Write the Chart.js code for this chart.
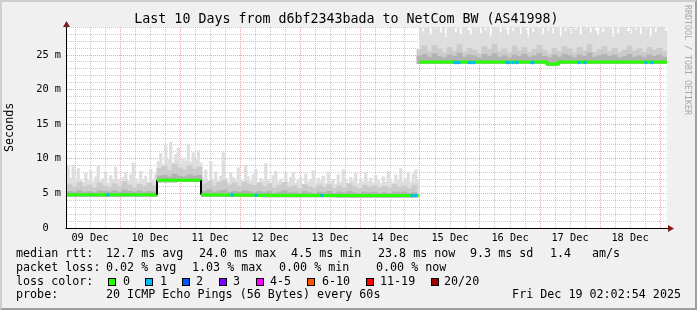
<!DOCTYPE html>
<html><head><meta charset="utf-8">
<script src="https://cdn.jsdelivr.net/npm/chart.js@4"></script>
<style>
html,body{margin:0;padding:0;}
body{width:697px;height:310px;overflow:hidden;position:relative;background:#f0f0f0;font-family:"DejaVu Sans Mono",monospace;color:#000;}
#frame{position:absolute;left:0;top:0;width:697px;height:310px;box-sizing:border-box;border-top:2px solid #cfcfcf;border-left:2px solid #cfcfcf;border-right:2px solid #9e9e9e;border-bottom:2px solid #9e9e9e;pointer-events:none;}
canvas{position:absolute;left:0;top:0;}
.t{position:absolute;white-space:pre;line-height:1;}
.title{font-size:13.3px;left:0;width:693px;text-align:center;top:12px;}
.lg{font-size:11.7px;}
.box{position:absolute;width:8px;height:8px;box-sizing:border-box;border:1px solid #000;}
.wm{position:absolute;font-size:8.3px;color:#a8a8a8;left:692px;top:5px;transform-origin:0 0;transform:rotate(90deg);white-space:pre;line-height:1;}
.ytitle{position:absolute;font-size:11.7px;left:4px;top:152px;transform-origin:0 0;transform:rotate(-90deg);white-space:pre;line-height:1;}
</style>
</head><body>
<canvas id="c" width="697" height="310"></canvas>
<div id="frame"></div>
<div class="t title">Last 10 Days from d6bf2343bada to NetCom BW (AS41998)</div>
<div class="ytitle">Seconds</div>
<div class="wm">RRDTOOL / TOBI OETIKER</div>

<div class="t lg" style="left:16px;top:248px">median rtt:</div>
<div class="t lg" style="left:106px;top:248px">12.7 ms avg</div>
<div class="t lg" style="left:199px;top:248px">24.0 ms max</div>
<div class="t lg" style="left:291px;top:248px">4.5 ms min</div>
<div class="t lg" style="left:378px;top:248px">23.8 ms now</div>
<div class="t lg" style="left:470px;top:248px">9.3 ms sd</div>
<div class="t lg" style="left:550px;top:248px">1.4</div>
<div class="t lg" style="left:592px;top:248px">am/s</div>

<div class="t lg" style="left:16px;top:262px">packet loss:</div>
<div class="t lg" style="left:106px;top:262px">0.02 % avg</div>
<div class="t lg" style="left:192px;top:262px">1.03 % max</div>
<div class="t lg" style="left:279px;top:262px">0.00 % min</div>
<div class="t lg" style="left:376px;top:262px">0.00 % now</div>

<div class="t lg" style="left:16px;top:276px">loss color:</div>
<div class="box" style="left:108px;top:278px;background:#26ff00"></div><div class="t lg" style="left:123px;top:276px">0</div>
<div class="box" style="left:145px;top:278px;background:#00b8ff"></div><div class="t lg" style="left:160px;top:276px">1</div>
<div class="box" style="left:182px;top:278px;background:#0059ff"></div><div class="t lg" style="left:196px;top:276px">2</div>
<div class="box" style="left:219px;top:278px;background:#7e00ff"></div><div class="t lg" style="left:233px;top:276px">3</div>
<div class="box" style="left:256px;top:278px;background:#ff00ff"></div><div class="t lg" style="left:270px;top:276px">4-5</div>
<div class="box" style="left:307px;top:278px;background:#ff5500"></div><div class="t lg" style="left:322px;top:276px">6-10</div>
<div class="box" style="left:366px;top:278px;background:#ff0000"></div><div class="t lg" style="left:380px;top:276px">11-19</div>
<div class="box" style="left:431px;top:278px;background:#a10000"></div><div class="t lg" style="left:444px;top:276px">20/20</div>

<div class="t lg" style="left:16px;top:289px">probe:</div>
<div class="t lg" style="left:106px;top:289px">20 ICMP Echo Pings (56 Bytes) every 60s</div>
<div class="t lg" style="right:16px;top:289px">Fri Dec 19 02:02:54 2025</div>

<script>
// ---- data (hours since 09 Dec 00:00) ----
const startHour = 2.8;
const endHour = 242.8;
const dayLabels = ['09 Dec','10 Dec','11 Dec','12 Dec','13 Dec','14 Dec','15 Dec','16 Dec','17 Dec','18 Dec'];
const yTickLabels = ['0  ','5 m','10 m','15 m','20 m','25 m'];

// median rtt (ms), piecewise
const medianHours = [2.8, 20, 38.8, 38.8, 47, 56.4, 56.4, 80, 110, 143.5, 143.55, 143.6, 175, 194.7, 194.8, 199.3, 199.4, 242.8];
const medianRtt   = [4.8, 4.8, 4.8, 6.9, 6.95, 6.9, 4.8, 4.75, 4.7, 4.7, null, 24.0, 24.0, 24.0, 23.7, 23.7, 24.0, 24.0];

// hours with 1/20 packet loss and their median rtt
const lossHours = [19.2, 68.8, 78.4, 104.8, 140.8, 142.3, 158, 158.8, 159.6, 163.6, 164.4, 165.6, 178.8, 179.6, 181.2, 182.8, 188.8, 189.2, 207.6, 210, 234.4, 236.8];
const lossRtt   = [4.8, 4.8, 4.75, 4.7, 4.7, 4.7, 23.9, 23.9, 23.9, 23.9, 23.9, 23.9, 23.9, 23.9, 23.9, 23.9, 23.9, 23.9, 23.9, 23.9, 23.9, 23.9];

// hourly max ping (ms)
const smokeMax = [
 8.9, 7.2, 9.1, 6.8, 8.6, 7.0, 6.6, 7.9, 6.9, 8.3, 6.7, 7.4, 9.0, 6.8, 7.1, 8.1, 6.5, 7.6, 6.9, 8.8, 7.0, 6.6, 7.3, 8.0, 6.8, 7.7, 9.4, 7.1, 6.7, 8.2, 6.9, 7.5, 6.6, 8.5, 7.0, 7.8,
 9.6, 10.8, 9.2, 11.9, 9.9, 12.4, 9.4, 10.6, 11.5, 9.3, 10.1, 9.7, 12.0, 9.5, 10.9, 9.8, 11.2, 9.4,
 7.1, 8.4, 6.7, 9.6, 7.0, 8.1, 6.8, 7.5, 10.9, 7.2, 6.6, 8.0, 7.3, 6.9, 8.7, 7.0, 6.5, 9.0, 7.4, 6.8, 7.7, 8.5, 6.6, 7.2,
 6.8, 9.3, 7.0, 6.5, 7.6, 8.2, 6.7, 7.1, 6.4, 7.9, 6.6, 7.3, 8.0, 6.5, 6.9, 7.4, 6.3, 7.8, 6.7, 7.0, 8.3, 6.5, 7.2, 6.8,
 7.5, 6.4, 8.1, 6.7, 7.0, 6.3, 7.7, 6.6, 8.4, 6.9, 6.5, 7.3, 6.8, 7.9, 6.4, 7.1, 6.6, 8.0, 6.7, 7.2, 6.5, 7.6, 6.9, 6.4,
 7.4, 6.6, 8.2, 6.8, 6.5, 7.7, 6.9, 8.6, 6.7, 7.1, 8.1, 6.6, 7.8, 8.4, 7.0,
 29.6, 28.4, 30.2, 29.1, 27.9, 29.8, 28.7, 30.5, 28.2, 29.4,
 27.6, 29.9, 28.9, 30.1, 28.3, 29.2, 28.0, 29.7, 30.4, 28.6,
 27.8, 29.5, 28.8, 30.0, 28.1, 29.3, 28.5, 30.3, 27.7, 29.0,
 28.9, 29.6, 28.2, 30.1, 28.7, 27.9, 29.8, 28.4, 29.2, 30.6,
 28.0, 29.4, 28.6, 27.6, 29.9, 28.3, 30.2, 28.8, 29.1, 27.8,
 29.7, 28.5, 30.0, 28.1, 29.5, 28.9, 27.7, 30.3, 28.4, 29.3,
 28.0, 29.8, 28.6, 30.4, 27.9, 29.0, 28.7, 29.6, 28.2, 30.1,
 28.5, 27.8, 29.9, 28.3, 29.4, 30.5, 28.8, 27.6, 29.2, 28.1,
 30.0, 28.9, 29.7, 28.4, 27.9, 29.5, 28.6, 30.2, 28.0, 29.1,
 28.7, 29.8, 27.7, 30.3, 28.3, 29.4, 28.9, 29.0, 28.5
];

// 2-hourly upper edge of the dense smoke (ms)
const smokeMid = [
 6.3, 5.9, 6.6, 6.0, 6.2, 5.8, 6.5, 6.1, 5.9, 6.4, 6.0, 6.7, 6.2, 5.8, 6.3, 6.0, 6.5, 6.1,
 8.6, 8.9, 8.3, 9.2, 8.7, 8.4, 9.0, 8.5, 8.8,
 6.4, 6.8, 6.1, 6.6, 6.9, 6.2, 6.5, 6.0, 6.7, 6.3, 6.1, 6.5,
 6.0, 6.4, 5.8, 6.2, 6.6, 5.9, 6.1, 5.7, 6.3, 6.0, 5.8, 6.2,
 5.9, 6.3, 5.7, 6.1, 5.8, 6.4, 6.0, 5.7, 6.2, 5.9, 6.1, 5.8,
 6.0, 5.8, 6.3, 5.9, 6.1, 5.7, 6.2,
 25.8, 26.3, 25.5, 26.4, 25.9, 25.3, 26.1, 25.6, 26.5, 25.4,
 26.0, 25.7, 25.2, 26.2, 25.8, 26.6, 25.5, 25.9, 25.3, 26.3,
 25.6, 26.1, 25.4, 25.8, 26.4, 25.7, 25.2, 26.0, 25.5, 26.2,
 25.9, 25.3, 26.1, 25.6, 26.5, 25.4, 25.8, 26.2, 25.5, 26.0,
 25.3, 25.7, 26.3, 25.6, 25.9, 25.4, 26.1, 25.7, 26.0, 25.5
];

// 2-hourly upper edge of the darkest smoke near the median (ms)
const smokeCore = [
 5.3, 5.2, 5.4, 5.2, 5.3, 5.1, 5.4, 5.3, 5.2, 5.4, 5.2, 5.5, 5.3, 5.2, 5.4, 5.2, 5.3, 5.2,
 7.5, 7.6, 7.4, 7.8, 7.5, 7.4, 7.7, 7.5, 7.6,
 5.3, 5.5, 5.2, 5.4, 5.5, 5.2, 5.3, 5.2, 5.4, 5.3,
 5.1, 5.3, 5.1, 5.3, 5.0, 5.2, 5.4, 5.1, 5.2, 5.0,
 5.3, 5.1, 5.0, 5.2, 5.1, 5.3, 5.0, 5.2, 5.1, 5.3,
 5.1, 5.0, 5.2, 5.1, 5.2, 5.0, 5.1, 5.0, 5.2, 5.1,
 5.2, 5.0, 5.1,
 24.9, 25.1, 24.7, 25.2, 24.8, 24.6, 25.0, 24.8, 25.3, 24.7,
 25.0, 24.9, 24.6, 25.1, 24.8, 25.2, 24.7, 24.9, 24.6, 25.0,
 24.8, 25.1, 24.7, 24.9, 25.2, 24.8, 24.6, 25.0, 24.7, 25.1,
 24.9, 24.6, 25.0, 24.8, 25.3, 24.7, 24.9, 25.1, 24.8, 25.0,
 24.6, 24.8, 25.1, 24.7, 24.9, 24.7, 25.0, 24.8, 25.0, 24.7
];

// ---- helpers ----
function medianAt(h) {
  let v = medianRtt[0];
  for (let i = 0; i < medianHours.length; i++) {
    if (medianHours[i] <= h && medianRtt[i] !== null) v = medianRtt[i];
  }
  return v;
}
function bandData(values, binHours) {
  return values.map((v, i) => {
    const x = startHour + binHours * i + binHours / 2;
    return { x: x, y: [medianAt(x) - 0.25, v] };
  });
}

const GRID = 'rgba(143,143,143,0.46)';
const MGRID = 'rgba(222,80,80,0.5)';
const FONT = '"DejaVu Sans Mono", monospace';

const bgPlugin = {
  id: 'bg',
  beforeDraw(chart) {
    const a = chart.chartArea, c = chart.ctx;
    c.save(); c.fillStyle = '#ffffff';
    c.fillRect(a.left, a.top, a.right - a.left, a.bottom - a.top + 1);
    c.restore();
  }
};
const axesPlugin = {
  id: 'axes',
  afterDraw(chart) {
    const a = chart.chartArea, c = chart.ctx;
    const x0 = a.left - 0.5, y0 = a.bottom + 0.5;
    c.save();
    c.strokeStyle = '#000'; c.lineWidth = 1;
    c.beginPath();
    c.moveTo(x0, y0); c.lineTo(x0, a.top - 1);
    c.moveTo(x0 - 1, y0); c.lineTo(a.right + 2, y0);
    c.stroke();
    c.fillStyle = '#7f1f1f';
    c.beginPath();
    c.moveTo(x0, a.top - 6); c.lineTo(x0 - 3.5, a.top); c.lineTo(x0 + 3.5, a.top); c.closePath(); c.fill();
    c.beginPath();
    c.moveTo(a.right + 7, y0); c.lineTo(a.right + 1, y0 - 3.5); c.lineTo(a.right + 1, y0 + 3.5); c.closePath(); c.fill();
    c.restore();
  }
};

new Chart(document.getElementById('c'), {
  type: 'bar',
  data: {
    datasets: [
      { type: 'scatter', order: 0, data: lossHours.map((h, i) => ({ x: h, y: lossRtt[i] })),
        pointStyle: 'rect', pointRadius: 2.1, pointBackgroundColor: '#00b8ff', pointBorderWidth: 0, clip: 0 },
      { type: 'line', order: 1, data: medianHours.map((h, i) => ({ x: h, y: medianRtt[i] })),
        borderColor: '#26ff00', borderWidth: 3, pointRadius: 0, tension: 0, spanGaps: false, clip: 0,
        borderCapStyle: 'butt',
        segment: {
          borderColor: ctx => Math.abs(ctx.p1.parsed.y - ctx.p0.parsed.y) > 1 ? '#000000' : undefined,
          borderWidth: ctx => Math.abs(ctx.p1.parsed.y - ctx.p0.parsed.y) > 1 ? 2 : undefined
        } },
      { order: 2, data: bandData(smokeCore, 2), backgroundColor: '#b2b2b2', borderWidth: 0, grouped: false, barThickness: 5.1, clip: 0 },
      { order: 3, data: bandData(smokeMid, 2), backgroundColor: '#cbcbcb', borderWidth: 0, grouped: false, barThickness: 5.1, clip: 0 },
      { order: 4, data: bandData(smokeMax, 1), backgroundColor: '#dedede', borderWidth: 0, grouped: false, barThickness: 2.6, clip: 0 }
    ]
  },
  options: {
    responsive: false, animation: false, devicePixelRatio: 1,
    layout: { padding: { left: 0, right: 30, top: 27, bottom: 62 } },
    plugins: { legend: { display: false }, tooltip: { enabled: false }, title: { display: false } },
    scales: {
      x: {
        type: 'linear', min: startHour, max: endHour, offset: false, z: 1,
        afterBuildTicks: s => { const t = []; for (let h = 6; h <= 240; h += 6) t.push({ value: h }); s.ticks = t; },
        afterFit: s => { s.height = 20; },
        grid: { offset: false, drawTicks: false, lineWidth: 1, color: c => (c.tick && c.tick.value % 24 === 0) ? MGRID : GRID },
        border: { display: false, dash: [1, 1] },
        ticks: { autoSkip: false, maxRotation: 0, minRotation: 0, padding: 4, color: '#000',
          font: { family: FONT, size: 10.3 },
          callback: v => (v % 24 === 12) ? dayLabels[(v - 12) / 24] : '' }
      },
      y: {
        min: 0, max: 29.05, z: 1,
        afterBuildTicks: s => { const t = []; for (let v = 0; v <= 29; v++) t.push({ value: v }); s.ticks = t; },
        afterFit: s => { s.width = 67; },
        grid: { drawTicks: false, lineWidth: 1, color: c => (c.tick && c.tick.value % 5 === 0) ? MGRID : GRID },
        border: { display: false, dash: [1, 1] },
        ticks: { autoSkip: false, padding: 6, color: '#000', font: { family: FONT, size: 10.3 },
          callback: v => (v % 5 === 0) ? yTickLabels[v / 5] : '' }
      }
    }
  },
  plugins: [bgPlugin, axesPlugin]
});
</script>
</body></html>
